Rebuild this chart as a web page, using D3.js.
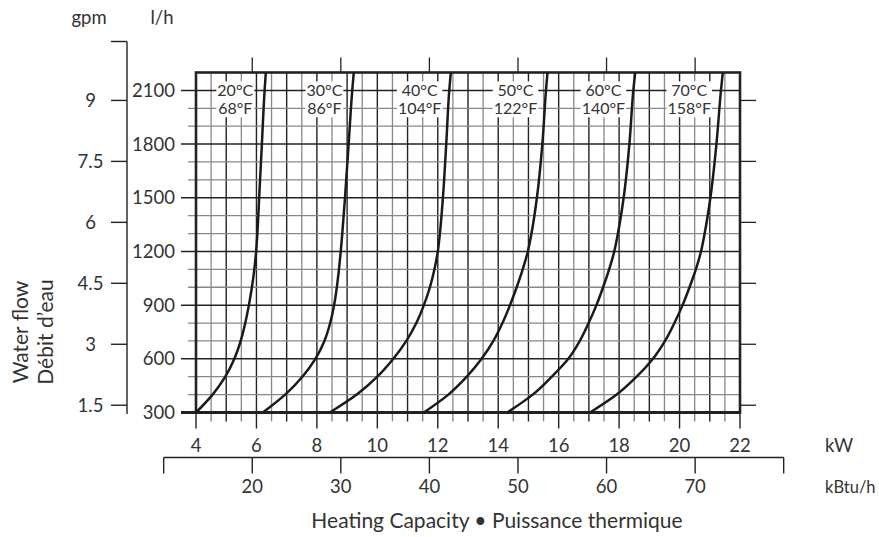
<!DOCTYPE html>
<html>
<head>
<meta charset="utf-8">
<script src="https://cdn.jsdelivr.net/npm/d3@7"></script>
<style>
  body { margin: 0; background: #fff; }
  svg text { font-family: Lato, "Open Sans", sans-serif; fill: #333; }
</style>
</head>
<body>
<svg id="chart" width="879" height="537"></svg>
<script>
// flow levels (l/h) at which the curves were read
const flow = [300, 400, 500, 600, 700, 800, 900, 1000, 1100, 1200, 1300, 1500, 1800, 2100, 2200];

// heating capacity (kW) per supply temperature
const kw20 = [4.00, 4.55, 4.97, 5.27, 5.48, 5.63, 5.75, 5.85, 5.93, 5.99, 6.03, 6.09, 6.18, 6.27, 6.31];
const kw30 = [6.21, 6.95, 7.52, 7.95, 8.25, 8.44, 8.57, 8.66, 8.73, 8.79, 8.84, 8.93, 9.05, 9.17, 9.22];
const kw40 = [8.43, 9.32, 10.00, 10.53, 10.96, 11.29, 11.54, 11.74, 11.89, 12.00, 12.07, 12.17, 12.28, 12.38, 12.43];
const kw50 = [11.54, 12.35, 12.96, 13.45, 13.84, 14.14, 14.39, 14.61, 14.81, 14.98, 15.10, 15.28, 15.46, 15.58, 15.63];
const kw60 = [14.30, 15.14, 15.77, 16.32, 16.70, 16.99, 17.25, 17.47, 17.67, 17.84, 17.96, 18.15, 18.34, 18.47, 18.53];
const kw70 = [17.04, 17.92, 18.58, 19.12, 19.52, 19.83, 20.10, 20.33, 20.54, 20.71, 20.83, 21.02, 21.22, 21.37, 21.43];

const labelsC = ["20°C", "30°C", "40°C", "50°C", "60°C", "70°C"];
const labelsF = ["68°F", "86°F", "104°F", "122°F", "140°F", "158°F"];
const labelKw = [5.3, 8.25, 11.4, 14.57, 17.48, 20.32];

const kwTicks = [4, 6, 8, 10, 12, 14, 16, 18, 20, 22];
const kbtuTicks = [10, 20, 30, 40, 50, 60, 70, 80];
const kbtuLabels = [20, 30, 40, 50, 60, 70];
const lhTicks = [300, 600, 900, 1200, 1500, 1800, 2100];
const gpmTicks = [1.5, 3, 4.5, 6, 7.5, 9];

const KW_PER_KBTU = 0.29307;
const LH_PER_GPM = 227.1;

const svg = d3.select("#chart");
const x = d3.scaleLinear().domain([4, 22]).range([196, 740]);
const y = d3.scaleLinear().domain([300, 2200]).range([412.5, 72.5]);

const dark = "#222", grey = "#888";
const tickFont = "18.5px";

// grid - vertical (every 0.5 kW), with ticks below the frame
const g = svg.append("g");
d3.range(4.5, 22, 0.5).forEach(v => {
  const major = Number.isInteger(v);
  g.append("line")
    .attr("x1", x(v)).attr("x2", x(v))
    .attr("y1", y(2200)).attr("y2", y(300))
    .attr("stroke", major ? dark : grey)
    .attr("stroke-width", major ? 1.4 : 1.3);
});
d3.range(4, 22.01, 0.5).forEach(v => {
  const long = v % 2 === 0;
  g.append("line")
    .attr("x1", x(v)).attr("x2", x(v))
    .attr("y1", y(300)).attr("y2", y(300) + (long ? 16 : 9))
    .attr("stroke", Number.isInteger(v) ? dark : grey)
    .attr("stroke-width", 1.4);
});

// grid - horizontal (every 100 l/h), extended left as ticks
d3.range(400, 2200, 100).forEach(v => {
  const major = v % 300 === 0;
  g.append("line")
    .attr("x1", major ? 181 : 188).attr("x2", x(22))
    .attr("y1", y(v)).attr("y2", y(v))
    .attr("stroke", major ? dark : grey)
    .attr("stroke-width", major ? 1.5 : 1.3);
});
g.append("line")
  .attr("x1", 181).attr("x2", x(22))
  .attr("y1", y(300)).attr("y2", y(300))
  .attr("stroke", dark).attr("stroke-width", 3);

// frame
g.append("rect")
  .attr("x", x(4)).attr("y", y(2200))
  .attr("width", x(22) - x(4)).attr("height", y(300) - y(2200))
  .attr("fill", "none").attr("stroke", dark).attr("stroke-width", 2.6);

// kBtu ticks on top of the frame
kbtuLabels.forEach(v => {
  g.append("line")
    .attr("x1", x(v * KW_PER_KBTU)).attr("x2", x(v * KW_PER_KBTU))
    .attr("y1", y(2200) - 15).attr("y2", y(2200))
    .attr("stroke", dark).attr("stroke-width", 1.3);
});

// gpm ticks on the right of the frame
gpmTicks.forEach(v => {
  g.append("line")
    .attr("x1", x(22)).attr("x2", x(22) + 16)
    .attr("y1", y(v * LH_PER_GPM)).attr("y2", y(v * LH_PER_GPM))
    .attr("stroke", dark).attr("stroke-width", 1.3);
});

// temperature labels
labelsC.forEach((t, i) => {
  const cx = x(labelKw[i]);
  const lg = svg.append("g");
  const rect = lg.append("rect").attr("fill", "#fff");
  const t1 = lg.append("text").attr("x", cx).attr("y", y(2100)).attr("dy", "0.36em")
    .attr("text-anchor", "middle").style("font-size", "16px").text(t);
  const t2 = lg.append("text").attr("x", cx).attr("y", y(2000)).attr("dy", "0.36em")
    .attr("text-anchor", "middle").style("font-size", "16px").text(labelsF[i]);
  const w = Math.max(t1.node().getComputedTextLength(), t2.node().getComputedTextLength()) + 2;
  rect.attr("x", cx - w / 2).attr("width", w)
    .attr("y", y(2100) - 9).attr("height", y(2000) - y(2100) + 18);
});

// curves
const series = [kw20, kw30, kw40, kw50, kw60, kw70];
const line = d3.line()
  .x(d => x(d[0])).y(d => y(d[1]))
  .curve(d3.curveMonotoneY);
series.forEach(s => {
  svg.append("path")
    .datum(s.map((v, i) => [v, flow[i]]))
    .attr("d", line)
    .attr("fill", "none").attr("stroke", "#1a1a1a").attr("stroke-width", 2.5);
});

// l/h labels
lhTicks.forEach(v => {
  svg.append("text").attr("x", 175).attr("y", y(v)).attr("dy", "0.36em")
    .attr("text-anchor", "end").style("font-size", tickFont).text(v);
});

// gpm axis
const gpmTop = 10.45;
svg.append("line").attr("x1", 127).attr("x2", 127)
  .attr("y1", y(gpmTop * LH_PER_GPM)).attr("y2", y(300) + 1.5)
  .attr("stroke", dark).attr("stroke-width", 1.4);
svg.append("line").attr("x1", 111).attr("x2", 127)
  .attr("y1", y(gpmTop * LH_PER_GPM)).attr("y2", y(gpmTop * LH_PER_GPM))
  .attr("stroke", dark).attr("stroke-width", 1.4);
gpmTicks.forEach(v => {
  svg.append("line").attr("x1", 111).attr("x2", 127)
    .attr("y1", y(v * LH_PER_GPM)).attr("y2", y(v * LH_PER_GPM))
    .attr("stroke", dark).attr("stroke-width", 1.4);
  svg.append("text").attr("x", 90.5).attr("y", y(v * LH_PER_GPM)).attr("dy", "0.36em")
    .attr("text-anchor", "middle").style("font-size", tickFont).text(v);
});

svg.append("text").attr("x", 89).attr("y", 24).attr("text-anchor", "middle")
  .style("font-size", tickFont).text("gpm");
svg.append("text").attr("x", 162).attr("y", 24).attr("text-anchor", "middle")
  .style("font-size", tickFont).text("l/h");

// kW labels
kwTicks.forEach(v => {
  svg.append("text").attr("x", x(v)).attr("y", 452).attr("text-anchor", "middle")
    .style("font-size", tickFont).text(v);
});
svg.append("text").attr("x", 825).attr("y", 452).style("font-size", tickFont).text("kW");

// kBtu/h axis
const kbY = 457.5;
svg.append("line")
  .attr("x1", x(10 * KW_PER_KBTU)).attr("x2", x(80 * KW_PER_KBTU))
  .attr("y1", kbY).attr("y2", kbY)
  .attr("stroke", dark).attr("stroke-width", 1.4);
kbtuTicks.forEach(v => {
  svg.append("line")
    .attr("x1", x(v * KW_PER_KBTU)).attr("x2", x(v * KW_PER_KBTU))
    .attr("y1", kbY).attr("y2", kbY + 16)
    .attr("stroke", dark).attr("stroke-width", 1.4);
});
kbtuLabels.forEach(v => {
  svg.append("text").attr("x", x(v * KW_PER_KBTU)).attr("y", 493).attr("text-anchor", "middle")
    .style("font-size", tickFont).text(v);
});
svg.append("text").attr("x", 825).attr("y", 493).style("font-size", "16.5px").text("kBtu/h");

// titles
svg.append("text").attr("x", 497).attr("y", 528).attr("text-anchor", "middle")
  .style("font-size", "21px").text("Heating Capacity • Puissance thermique");
svg.append("text").attr("transform", "translate(28,332) rotate(-90)")
  .attr("text-anchor", "middle").style("font-size", "21px").text("Water flow");
svg.append("text").attr("transform", "translate(53,332) rotate(-90)")
  .attr("text-anchor", "middle").style("font-size", "21px").text("Débit d’eau");
</script>
</body>
</html>
